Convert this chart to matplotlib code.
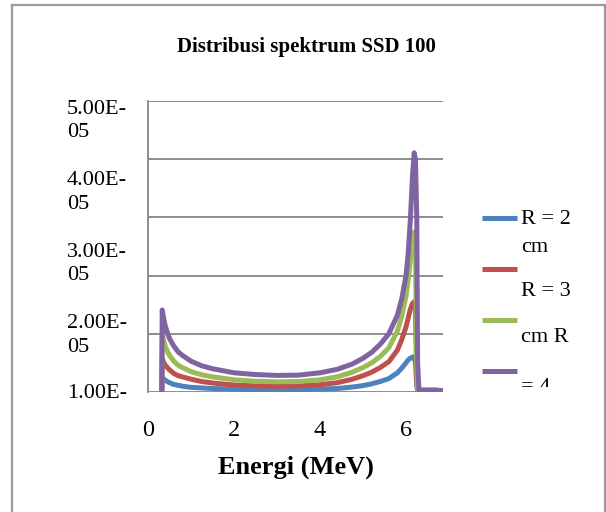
import matplotlib
matplotlib.use("Agg")
import matplotlib.pyplot as plt
from matplotlib.lines import Line2D
from matplotlib.patches import Rectangle
from matplotlib.transforms import Bbox
import numpy as np

# energy grid (MeV) and spectra (in units of 1e-5)
energy = [0.32, 0.33, 0.36, 0.4, 0.45, 0.5, 0.6, 0.7, 0.8, 1.0, 1.25, 1.5, 2.0, 2.5,
          3.0, 3.5, 4.0, 4.4, 4.75, 5.0, 5.2, 5.4, 5.6, 5.8, 5.9, 6.0, 6.05, 6.1,
          6.15, 6.19, 6.22, 6.25, 6.27, 6.3, 6.5, 6.7, 6.88]
r2 = [0, 0.26, 0.23, 0.20, 0.18, 0.16, 0.13, 0.115, 0.10, 0.08, 0.07, 0.06, 0.05, 0.04,
      0.04, 0.04, 0.05, 0.06, 0.085, 0.11, 0.14, 0.18, 0.23, 0.33, 0.41, 0.50, 0.55,
      0.58, 0.60, 0.60, 0.50, 0.10, 0.03, 0.03, 0.03, 0.03, 0.02]
r3 = [0, 0.58, 0.52, 0.46, 0.42, 0.38, 0.32, 0.28, 0.26, 0.22, 0.18, 0.155, 0.12, 0.105,
      0.10, 0.105, 0.125, 0.16, 0.22, 0.28, 0.34, 0.42, 0.52, 0.72, 0.90, 1.12, 1.27,
      1.42, 1.52, 1.55, 1.40, 0.20, 0.04, 0.03, 0.03, 0.03, 0.02]
r3b = [0, 1.01, 0.90, 0.79, 0.70, 0.63, 0.53, 0.46, 0.42, 0.35, 0.295, 0.26, 0.21, 0.185,
       0.175, 0.18, 0.21, 0.26, 0.34, 0.42, 0.50, 0.61, 0.76, 1.05, 1.30, 1.65, 1.92,
       2.25, 2.55, 2.75, 2.50, 0.40, 0.05, 0.03, 0.03, 0.03, 0.02]
r4 = [0, 1.41, 1.28, 1.14, 1.02, 0.92, 0.79, 0.69, 0.63, 0.53, 0.45, 0.40, 0.33, 0.30,
      0.285, 0.29, 0.33, 0.39, 0.48, 0.58, 0.68, 0.82, 1.00, 1.32, 1.60, 2.00, 2.38,
      2.95, 3.70, 4.11, 4.00, 3.00, 0.50, 0.03, 0.03, 0.03, 0.02]

series = [r2, r3, r3b, r4]
colors = ["#4F81BD", "#C0504D", "#9BBB59", "#8064A2"]

y_grid = [0, 1e-5, 2e-5, 3e-5, 4e-5, 5e-5]
y_labels = ["5.00E-\n05", "4.00E-\n05", "3.00E-\n05", "2.00E-\n05", "1.00E-"]
x_ticks = [0, 2, 4, 6]
legend_lines = ["R = 2", "cm", "R = 3", "cm R", "= 4"]

W, H = 606, 512
SERIF = "Liberation Serif"


def fx(px):
    return px / W


def fy(py):
    return 1 - py / H


fig = plt.figure(figsize=(W / 100, H / 100), dpi=100)
fig.patch.set_facecolor("white")

# outer chart border (bottom edge runs off the image)
fig.add_artist(Rectangle((fx(12), fy(530)), fx(605) - fx(12), fy(5) - fy(530),
                         transform=fig.transFigure, fill=False,
                         edgecolor="#9a9a9a", linewidth=1.6))

ax = fig.add_axes([fx(148), fy(392), fx(443) - fx(148), fy(101) - fy(392)])
for s, c in zip(series, colors):
    ax.plot(energy, np.array(s) * 1e-5, color=c, linewidth=3.6,
            solid_joinstyle="round", solid_capstyle="round")

ax.set_xlim(0, 6.86)
ax.set_ylim(0, 5e-5)
ax.set_yticks(y_grid)
ax.set_yticklabels([])
ax.tick_params(axis="y", length=0)
ax.grid(axis="y", color="#868686", linewidth=1.3)
ax.set_axisbelow(True)
for side in ["top", "right", "bottom"]:
    ax.spines[side].set_visible(False)
ax.spines["left"].set_color("#868686")
ax.spines["left"].set_linewidth(1.3)

ax.set_xticks(x_ticks)
ax.set_xticklabels([str(t) for t in x_ticks], fontfamily=SERIF, fontsize=17.5)
ax.tick_params(axis="x", length=0, pad=20)
ax.set_xlabel("Energi (MeV)", fontfamily=SERIF, fontsize=19,
              fontweight="bold", labelpad=11)

# y labels as rendered in the source (wrapped, not aligned to the gridlines)
label_y = [121, 192.5, 264, 335.5, 393]
for lab, py in zip(y_labels, label_y):
    fig.text(fx(67), fy(py), lab, fontfamily=SERIF, fontsize=16,
             ha="left", va="center", linespacing=1.3)

fig.text(fx(306), fy(47), "Distribusi spektrum SSD 100", fontfamily=SERIF,
         fontsize=15, fontweight="bold", ha="center", va="center")

# legend drawn by hand to keep the wrapped layout
handle_y = [218, 269, 320, 371]
for c, py in zip(colors, handle_y):
    fig.add_artist(Line2D([fx(482), fx(517)], [fy(py), fy(py)],
                          transform=fig.transFigure, color=c, linewidth=3.6,
                          solid_capstyle="butt"))
text_y = [220, 247, 292, 338, 388]
clip = Bbox([[0, H - 387], [W, H]])
for line, py in zip(legend_lines, text_y):
    t = fig.text(fx(521), fy(py), line, fontfamily=SERIF, fontsize=16,
                 ha="left", va="center")
    t.set_clip_box(clip)
    t.set_clip_on(True)

fig.savefig("out.png", dpi=100)
